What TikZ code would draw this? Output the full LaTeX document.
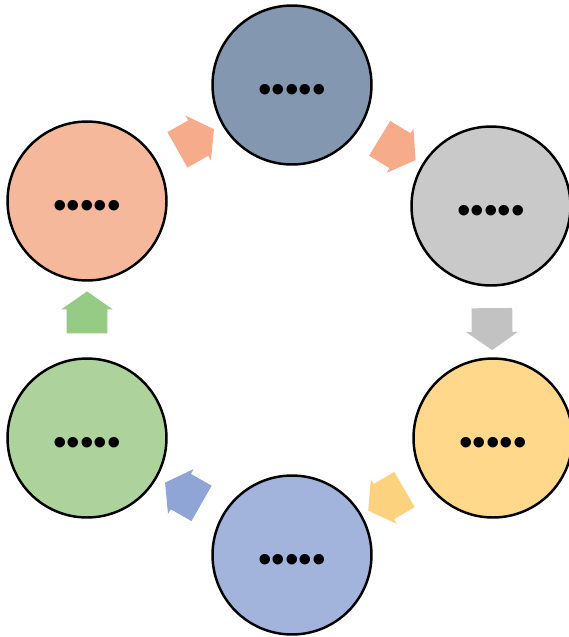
\documentclass[tikz,border=0pt]{standalone}
\usepackage{fontspec}
\usepackage{tikz}
\usetikzlibrary{shapes.arrows}

\newfontfamily\dotfont{Liberation Sans}

\definecolor{slateblue}{HTML}{8497B0}
\definecolor{lightgray}{HTML}{C9C9C9}
\definecolor{paleyellow}{HTML}{FFD88C}
\definecolor{paleblue}{HTML}{A2B4DC}
\definecolor{palegreen}{HTML}{AED29C}
\definecolor{salmon}{HTML}{F5B89A}

\definecolor{arrorange}{HTML}{F6AB8A}
\definecolor{arrgray}{HTML}{C2C2C2}
\definecolor{arryellow}{HTML}{FDD27E}
\definecolor{arrblue}{HTML}{8EA5D6}
\definecolor{arrgreen}{HTML}{95CB85}

\tikzset{
    stage/.style={circle, draw=black, line width=1.4pt, minimum size=3.18cm, inner sep=0pt, text height=20pt, text depth=0pt, font=\dotfont\fontsize{22}{22}\selectfont},
    blockarrow/.style={single arrow, draw=none, fill=#1, minimum height=0.84cm, inner xsep=0pt, inner ysep=0.4cm, single arrow head extend=0.11cm, single arrow tip angle=110, sloped, allow upside down}
}

\begin{document}
\begin{tikzpicture}[x=0.02cm, y=-0.02cm]

            \useasboundingbox (0,0) rectangle (569,637);

            % Nodes

            \node[stage, fill=slateblue] (top) at (292,85) {•••••};
            \node[stage, fill=lightgray] (rightup) at (491,206) {•••••};
            \node[stage, fill=paleyellow] (rightdown) at (493,438) {•••••};
            \node[stage, fill=paleblue] (bottom) at (292,555) {•••••};
            \node[stage, fill=palegreen] (leftdown) at (87,438) {•••••};
            \node[stage, fill=salmon] (leftup) at (87,201) {•••••};

            % Arrows

            \path (leftup) -- (top) node[midway, blockarrow=arrorange] (a1) {};
            \path (top) -- (rightup) node[midway, blockarrow=arrorange] (a2) {};
            \path (rightup) -- (rightdown) node[midway, blockarrow=arrgray] (a3) {};
            \path (rightdown) -- (bottom) node[midway, blockarrow=arryellow] (a4) {};
            \path (bottom) -- (leftdown) node[midway, blockarrow=arrblue] (a5) {};
            \path (leftdown) -- (leftup) node[midway, blockarrow=arrgreen] (a6) {};

\end{tikzpicture}
\end{document}
